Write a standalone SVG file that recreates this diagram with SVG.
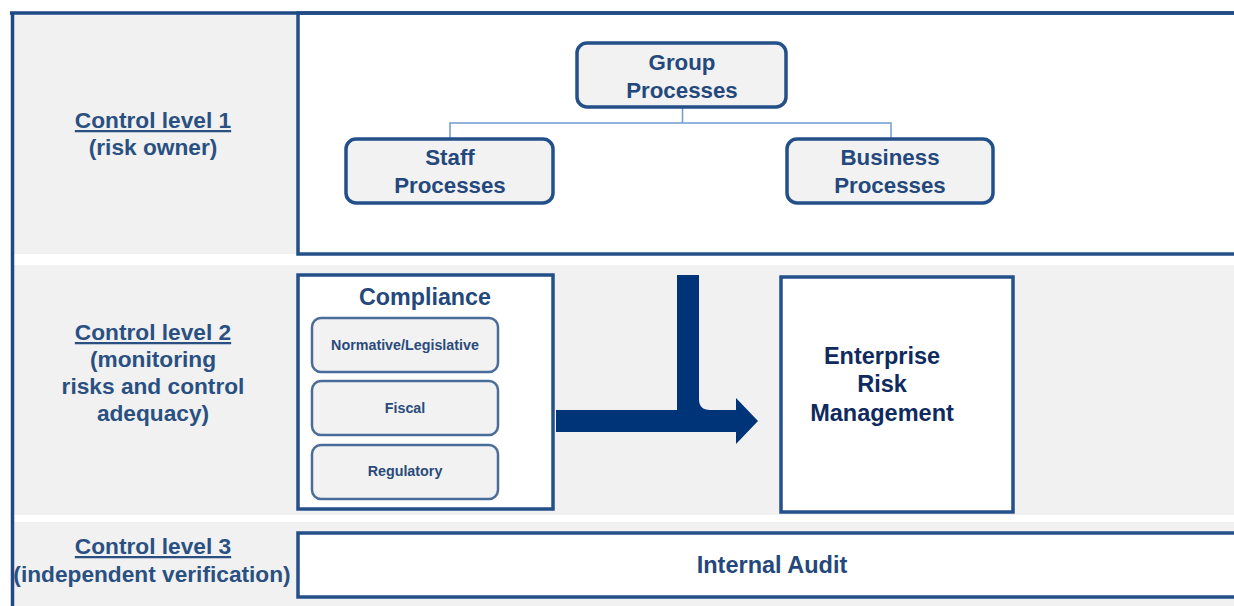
<svg xmlns="http://www.w3.org/2000/svg" width="1234" height="606" viewBox="0 0 1234 606">
<defs>
<style>
text{font-family:"Liberation Sans",Arial,sans-serif;font-weight:bold;text-anchor:middle}
.lbl{font-size:22.7px;fill:#2a5082}
.ul{text-decoration:underline}
.proc{fill:#f2f2f2;stroke:#24508a;stroke-width:3.5}
.ptxt{font-size:22.3px;fill:#24487c}
.sub{fill:#f2f2f2;stroke:#4a6c9a;stroke-width:2.5}
.stxt{font-size:14.3px;fill:#2a4a7a}
.wbox{fill:#ffffff;stroke:#24508a;stroke-width:3.5}
.conn{fill:none;stroke:#6f9bd0;stroke-width:1.5}
</style>
</defs>
<rect x="0" y="0" width="1234" height="606" fill="#ffffff"/>
<g id="bands">
<rect x="12" y="13" width="1222" height="241" fill="#f1f1f1"/>
<rect x="12" y="265" width="1222" height="250" fill="#f1f1f1"/>
<rect x="12" y="522" width="1222" height="84" fill="#f1f1f1"/>
<rect x="298" y="13" width="950" height="241" class="wbox"/>
<path d="M10,13 H1234 M12.5,12 V606" fill="none" stroke="#1f4a86" stroke-width="3.5"/>
</g>
<g id="level1-label">
<text class="lbl ul" x="153" y="128">Control level 1</text>
<text class="lbl" x="153" y="155">(risk owner)</text>
</g>
<g id="level2-label">
<text class="lbl ul" x="153" y="340">Control level 2</text>
<text class="lbl" x="153" y="367">(monitoring</text>
<text class="lbl" x="153" y="394">risks and control</text>
<text class="lbl" x="153" y="421">adequacy)</text>
</g>
<g id="level3-label">
<text class="lbl ul" x="153" y="554">Control level 3</text>
<text class="lbl" x="152" y="582">(independent verification)</text>
</g>
<g id="connectors">
<path class="conn" d="M682.5,107 V123 M450,138 V123 H891 V138"/>
<path d="M556,410 H677 V275 H699 V399 Q699,410 710,410 H736 V398 L758,421 L736,444 V432 H556 Z" fill="#003478"/>
</g>
<g id="group-processes">
<rect x="577" y="43" width="209" height="64" rx="10" class="proc"/>
<text class="ptxt" x="682" y="70">Group</text>
<text class="ptxt" x="682" y="98">Processes</text>
</g>
<g id="staff-processes">
<rect x="346" y="139" width="207" height="64" rx="10" class="proc"/>
<text class="ptxt" x="450" y="165">Staff</text>
<text class="ptxt" x="450" y="193">Processes</text>
</g>
<g id="business-processes">
<rect x="787" y="139" width="206" height="64" rx="10" class="proc"/>
<text class="ptxt" x="890" y="165">Business</text>
<text class="ptxt" x="890" y="193">Processes</text>
</g>
<g id="compliance">
<rect x="298" y="275" width="255" height="234" class="wbox" stroke-width="3"/>
<text x="425" y="305" font-size="23.3" fill="#24487c">Compliance</text>
</g>
<g id="normative">
<rect x="312" y="318" width="186" height="54" rx="9" class="sub"/>
<text class="stxt" x="405" y="350">Normative/Legislative</text>
</g>
<g id="fiscal">
<rect x="312" y="381" width="186" height="54" rx="9" class="sub"/>
<text class="stxt" x="405" y="413">Fiscal</text>
</g>
<g id="regulatory">
<rect x="312" y="445" width="186" height="54" rx="9" class="sub"/>
<text class="stxt" x="405" y="476">Regulatory</text>
</g>
<g id="erm">
<rect x="781" y="277" width="232" height="235" class="wbox" stroke-width="3"/>
<text x="882" y="364" font-size="23.5" fill="#0f2a5e">Enterprise</text>
<text x="882" y="392" font-size="23.5" fill="#0f2a5e">Risk</text>
<text x="882" y="421" font-size="23.5" fill="#0f2a5e">Management</text>
</g>
<g id="internal-audit">
<rect x="298" y="533" width="950" height="64" class="wbox"/>
<text x="772" y="573" font-size="23.5" fill="#24487c">Internal Audit</text>
</g>
</svg>
